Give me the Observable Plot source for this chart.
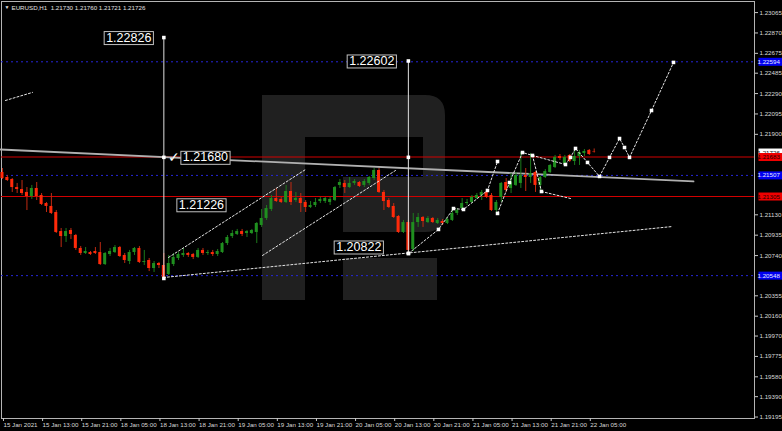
<!DOCTYPE html>
<html><head><meta charset="utf-8">
<script src="https://cdn.jsdelivr.net/npm/d3@7"></script>
<script src="https://cdn.jsdelivr.net/npm/@observablehq/plot@0.6"></script>
<style>
html,body{margin:0;padding:0;background:#000;}
svg{display:block}
</style></head><body>
<div id="chart"></div>
<script>
// ---- candle data (EURUSD H1), bar index 0 = 15 Jan 05:00 ----
const opens = [1.21535,1.21487,1.21468,1.21391,1.21372,1.21344,1.21305,1.21382,1.21315,1.21238,
1.21210,1.21152,1.20970,1.20922,1.20980,1.20932,1.20808,1.20760,1.20769,1.20779,
1.20769,1.20654,1.20750,1.20769,1.20817,1.20741,1.20683,1.20769,1.20808,1.20674,
1.20693,1.20616,1.20664,1.20645,1.20559,1.20654,1.20712,1.20741,1.20760,1.20750,
1.20722,1.20789,1.20760,1.20769,1.20750,1.20769,1.20855,1.20922,1.20942,1.20970,
1.20951,1.20951,1.20961,1.21028,1.21095,1.21181,1.21286,1.21277,1.21248,1.21353,
1.21267,1.21286,1.21248,1.21200,1.21219,1.21257,1.21257,1.21248,1.21267,1.21411,
1.21430,1.21391,1.21430,1.21439,1.21411,1.21430,1.21477,1.21554,1.21344,1.21267,
1.21210,1.21114,1.20961,1.21056,1.20798,1.21056,1.21104,1.21056,1.21095,1.21047,
1.21066,1.21047,1.21076,1.21143,1.21190,1.21238,1.21248,1.21286,1.21315,1.21344,
1.21315,1.21171,1.21296,1.21439,1.21382,1.21411,1.21430,1.21506,1.21487,1.21535,
1.21411,1.21487,1.21535,1.21583,1.21688,1.21621,1.21698,1.21640,1.21688,1.21717,
1.21746,1.21730];
const highs = [1.21573,1.21506,1.21477,1.21430,1.21458,1.21391,1.21411,1.21439,1.21334,1.21248,
1.21334,1.21171,1.20999,1.20999,1.20999,1.20942,1.20827,1.20817,1.20779,1.20817,
1.20865,1.20769,1.20808,1.20836,1.20827,1.20760,1.20789,1.20817,1.20827,1.20789,
1.20712,1.20683,1.20674,1.20760,1.20741,1.20760,1.20769,1.20808,1.20769,1.20760,
1.20808,1.20808,1.20789,1.20789,1.20798,1.20865,1.20932,1.20980,1.20990,1.20990,
1.20980,1.20990,1.21056,1.21181,1.21219,1.21315,1.21382,1.21296,1.21411,1.21439,
1.21344,1.21334,1.21267,1.21257,1.21286,1.21296,1.21296,1.21296,1.21401,1.21468,
1.21458,1.21487,1.21468,1.21449,1.21468,1.21497,1.21573,1.21573,1.21363,1.21286,
1.21238,1.21123,1.21076,1.21076,1.21143,1.21143,1.21114,1.21114,1.21104,1.21095,
1.21085,1.21104,1.21200,1.21190,1.21286,1.21277,1.21315,1.21334,1.21363,1.21363,
1.21334,1.21267,1.21439,1.21477,1.21525,1.21535,1.21726,1.21573,1.21717,1.21544,
1.21497,1.21563,1.21611,1.21698,1.21707,1.21698,1.21707,1.21765,1.21746,1.21755,
1.21755,1.21760];
const lows = [1.21468,1.21449,1.21344,1.21334,1.21315,1.21171,1.21277,1.21267,1.21219,1.21152,
1.21133,1.20951,1.20817,1.20865,1.20894,1.20789,1.20741,1.20750,1.20741,1.20750,
1.20645,1.20645,1.20731,1.20760,1.20722,1.20664,1.20654,1.20741,1.20664,1.20645,
1.20587,1.20578,1.20616,1.20521,1.20549,1.20635,1.20693,1.20722,1.20722,1.20702,
1.20712,1.20741,1.20741,1.20731,1.20731,1.20760,1.20836,1.20903,1.20932,1.20922,
1.20913,1.20942,1.20855,1.21009,1.21076,1.21162,1.21248,1.21238,1.21238,1.21219,
1.21248,1.21152,1.21152,1.21190,1.21200,1.21238,1.21238,1.21219,1.21257,1.21382,
1.21334,1.21382,1.21411,1.21391,1.21391,1.21411,1.21458,1.21334,1.21171,1.21190,
1.21095,1.20951,1.20951,1.20760,1.20779,1.21009,1.21009,1.21047,1.21047,1.21037,
1.21028,1.21037,1.21066,1.21123,1.21171,1.21219,1.21238,1.21277,1.21267,1.21286,
1.21162,1.21152,1.21248,1.21344,1.21334,1.21401,1.21382,1.21353,1.21430,1.21344,
1.21363,1.21477,1.21525,1.21573,1.21650,1.21602,1.21631,1.21602,1.21602,1.21688,
1.21698,1.21721];
const closes = [1.21477,1.21458,1.21391,1.21372,1.21334,1.21305,1.21382,1.21305,1.21229,1.21210,
1.21143,1.20961,1.20922,1.20970,1.20942,1.20808,1.20760,1.20779,1.20750,1.20760,
1.20654,1.20760,1.20779,1.20817,1.20731,1.20693,1.20769,1.20808,1.20674,1.20683,
1.20616,1.20664,1.20645,1.20530,1.20664,1.20722,1.20750,1.20760,1.20741,1.20722,
1.20789,1.20760,1.20769,1.20750,1.20779,1.20855,1.20913,1.20951,1.20970,1.20942,
1.20970,1.20980,1.21047,1.21095,1.21190,1.21286,1.21257,1.21248,1.21353,1.21248,
1.21286,1.21238,1.21200,1.21219,1.21248,1.21277,1.21286,1.21277,1.21391,1.21439,
1.21391,1.21430,1.21449,1.21401,1.21449,1.21487,1.21554,1.21344,1.21257,1.21200,
1.21104,1.20961,1.21056,1.20789,1.21056,1.21104,1.21066,1.21095,1.21056,1.21076,
1.21047,1.21085,1.21143,1.21171,1.21238,1.21248,1.21296,1.21315,1.21344,1.21296,
1.21171,1.21248,1.21430,1.21363,1.21439,1.21506,1.21506,1.21487,1.21525,1.21411,
1.21487,1.21544,1.21602,1.21679,1.21669,1.21679,1.21640,1.21688,1.21726,1.21736,
1.21707,1.21726];

// ---- axes ----
const xTickIdx = [0,8,16,24,32,40,48,56,64,72,80,88,96,104,112,120];
const xTickLabels = ["15 Jan 2021","15 Jan 13:00","15 Jan 21:00","18 Jan 05:00","18 Jan 13:00","18 Jan 21:00",
 "19 Jan 05:00","19 Jan 13:00","19 Jan 21:00","20 Jan 05:00","20 Jan 13:00","20 Jan 21:00",
 "21 Jan 05:00","21 Jan 13:00","21 Jan 21:00","22 Jan 05:00"];
const yTicks = [1.23065,1.22870,1.22675,1.22485,1.22290,1.22095,1.21900,1.21130,1.20935,1.20740,
 1.20355,1.20160,1.19970,1.19775,1.19580,1.19390,1.19195];

// ---- levels ----
const redLevels = [1.21683, 1.21305];
const blueLevels = [1.22594, 1.21507, 1.20548];
const priceBoxPrices = [1.22594, 1.21726, 1.21683, 1.21507, 1.21305, 1.20548];
const priceBoxKinds  = ["blue","white","red","blue","red","blue"];
const title = "EURUSD,H1  1.21730 1.21760 1.21721 1.21726";

// ---- drawn objects (bar index, price) ----
const trendIdx = [-0.41, 141.31], trendPrice = [1.21755, 1.21449];
const shortIdx = [0.61, 6.13], shortPrice = [1.22224, 1.22301];
const chanUpIdx = [33.95, 61.96], chanUpPrice = [1.20722, 1.21563];
const chanLoIdx = [53.17, 80.37], chanLoPrice = [1.20741, 1.21554];
const baseIdx = [32.92, 137.01], basePrice = [1.20530, 1.21018];
const z1Idx = [83.03, 89.16, 92.23, 94.27, 99.18, 101.23];
const z1Price = [1.20760, 1.20990, 1.21190, 1.21181, 1.21363, 1.21640];
const z2Idx = [101.23, 103.68, 106.34, 108.38, 110.22];
const z2Price = [1.21143, 1.21439, 1.21726, 1.21698, 1.21353];
const triUpIdx = [108.38, 115.13], triUpPrice = [1.21698, 1.21611];
const triLoIdx = [110.22, 116.15], triLoPrice = [1.21353, 1.21286];
const z3Idx = [115.13, 116.15, 117.18, 119.63, 122.09, 124.13, 126.18, 127.20, 128.22, 132.72, 137.22];
const z3Price = [1.21611, 1.21679, 1.21765, 1.21631, 1.21497, 1.21679, 1.21860, 1.21774, 1.21679, 1.22128, 1.22588];
const vIdx = [33, 83], vTop = [1.22826, 1.22602], vBottom = [1.20521, 1.20760], vMid = [1.21680, 1.21680];
const annIdx = [33, 83, 33, 33, 83];
const annPrice = [1.22826, 1.22602, 1.21680, 1.21226, 1.20822];

// ---- build tables ----
const candles = opens.map((o, i) => ({i, o, h: highs[i], l: lows[i], c: closes[i], up: closes[i] >= o}));
const pts = (xs, ys) => xs.map((x, k) => ({x, y: ys[k]}));
const dottedSets = [pts(shortIdx, shortPrice), pts(chanUpIdx, chanUpPrice), pts(chanLoIdx, chanLoPrice),
  pts(baseIdx, basePrice), pts(z1Idx, z1Price), pts(z2Idx, z2Price), pts(triUpIdx, triUpPrice),
  pts(triLoIdx, triLoPrice), pts(z3Idx, z3Price)];
const markers = [...pts(z1Idx, z1Price), ...pts(z2Idx, z2Price), ...pts(z3Idx, z3Price),
  ...pts(vIdx, vTop), ...pts(vIdx, vMid), ...pts(vIdx, vBottom)];
const verticals = vIdx.map((x, k) => ({x, y1: vBottom[k], y2: vTop[k]}));
const kindBg = {blue: "#0000f0", white: "#ffffff", red: "#f00000"};
const kindFg = {blue: "#e8e8ff", white: "#000000", red: "#200000"};
const priceBoxes = priceBoxPrices.map((p, k) => ({p, t: p.toFixed(5), bg: kindBg[priceBoxKinds[k]], fg: kindFg[priceBoxKinds[k]]}));
const anns = annIdx.map((x, k) => ({x, y: annPrice[k], t: annPrice[k].toFixed(5)}));

const RED = "#ff2a0a", REDW = "#c02a12", GRN = "#1f8f1f", GRNW = "#1c7a1c";
const DOT = "#e6e6e6";
const FONT = "'Liberation Sans', Arial, sans-serif";
const SMALL = 6.2;

// annotation text placement (pixel offsets from anchor)
const annStyle = [
  {dx: -12.5, anchor: "end"},
  {dx: -14, anchor: "end"},
  {dx: 19, anchor: "start"},
  {dx: 15, anchor: "start"},
  {dx: -27, anchor: "end"}
];

const marks = [
  Plot.frame({stroke: "#b4b4b4"}),
  Plot.ruleY(redLevels, {stroke: "#d20000", strokeWidth: 1.2}),
  Plot.ruleY(blueLevels, {stroke: "#2626d8", strokeDasharray: "2,3"}),
  Plot.line(pts(trendIdx, trendPrice), {x: "x", y: "y", stroke: "#b0b0b0", strokeWidth: 1.8}),
  Plot.ruleX(candles, {x: "i", y1: "l", y2: "h", stroke: d => d.up ? GRNW : REDW, strokeWidth: 1}),
  Plot.rect(candles, {x1: d => d.i - 0.31, x2: d => d.i + 0.31, y1: "o", y2: "c",
    fill: d => d.up ? GRN : RED}),
  ...dottedSets.map(s => Plot.line(s, {x: "x", y: "y", stroke: DOT, strokeWidth: 1, strokeDasharray: "2,2"})),
  Plot.ruleX(verticals, {x: "x", y1: "y1", y2: "y2", stroke: "#e0e0e0", strokeWidth: 1}),
  Plot.dot(markers, {x: "x", y: "y", symbol: "square", r: 2, fill: "#ffffff", stroke: null}),
  ...anns.map((a, k) => Plot.text([a], {x: "x", y: "y", text: "t", dx: annStyle[k].dx,
     textAnchor: annStyle[k].anchor, fill: "#ffffff", fontSize: 12.5,
     fontFamily: FONT, letterSpacing: "-0.5px"})),
  Plot.text([anns[2]], {x: "x", y: "y", text: () => "\u2713", dx: 10, fill: "#ffffff", fontSize: 14}),
  Plot.axisY(yTicks, {anchor: "right", tickSize: 3, tickPadding: 2, tickFormat: d => d.toFixed(5),
     fontSize: SMALL, stroke: "#c8c8c8", fill: "#d8d8d8", fontFamily: FONT, letterSpacing: "-0.3px"}),
  Plot.axisX(xTickIdx, {anchor: "bottom", tickSize: 3, tickPadding: 1, textAnchor: "start", dx: 1,
     tickFormat: d => xTickLabels[xTickIdx.indexOf(d)], fontSize: SMALL, stroke: "#c8c8c8", fill: "#d8d8d8",
     fontFamily: FONT, letterSpacing: "-0.3px"}),
  Plot.text(priceBoxes, {y: "p", text: "t", frameAnchor: "right", textAnchor: "start",
     dx: 3, fill: "fg", fontSize: SMALL, fontFamily: FONT, letterSpacing: "-0.3px"}),
  Plot.text([title], {text: d => d, frameAnchor: "top-left", dx: 10, dy: 4, textAnchor: "start",
     fill: "#e0e0e0", fontSize: 6.2, fontFamily: FONT, letterSpacing: "-0.2px"}),
  Plot.text(["\u25BC"], {text: d => d, frameAnchor: "top-left", dx: 3, dy: 4, textAnchor: "start",
     fill: "#e0e0e0", fontSize: 5})
];

const chart = Plot.plot({
  width: 782, height: 431,
  marginLeft: 1, marginRight: 28, marginTop: 1, marginBottom: 13,
  style: {background: "#000", color: "#d8d8d8", fontFamily: FONT},
  x: {domain: [-0.2, 153.78]},
  y: {domain: [1.19181, 1.23171]},
  marks
});
document.getElementById("chart").appendChild(chart);

// ---- decorations: label boxes, price boxes, watermark ----
const svg = d3.select(chart);
const ys = chart.scale("y");
// watermark "R" logo (pixel geometry inside the frame)
const logo = "M262,95 H425 Q445,95 445,115 V212 Q445,232 425,232 H343 V177 H423 V137 H305 V300 H262 Z " +
             "M343,258 H437 V300 H343 Z";
svg.insert("path", ":scope > g").attr("d", logo).attr("fill", "#202020");

const annTexts = new Set(anns.map(a => a.t));
const boxByText = new Map(priceBoxes.map(b => [b.t, b]));
const allTexts = Array.from(chart.querySelectorAll("text"));
allTexts.forEach(node => {
  const s = node.textContent;
  if (annTexts.has(s)) {
    const b = node.getBBox();
    const r = d3.select(node.parentNode).insert("rect", () => node)
      .attr("x", b.x - 2).attr("y", b.y + 1).attr("width", b.width + 4).attr("height", b.height - 1)
      .attr("fill", "#000").attr("stroke", "#c0c0c0").attr("stroke-width", 1);
    const tr = node.getAttribute("transform");
    if (tr) r.attr("transform", tr);
  } else if (boxByText.has(s)) {
    const bx = boxByText.get(s);
    const py = ys.apply(bx.p);
    d3.select(node.parentNode).insert("rect", () => node)
      .attr("x", 755).attr("y", py - 4).attr("width", 26).attr("height", 8)
      .attr("fill", bx.bg);
  }
});
</script>
</body></html>
